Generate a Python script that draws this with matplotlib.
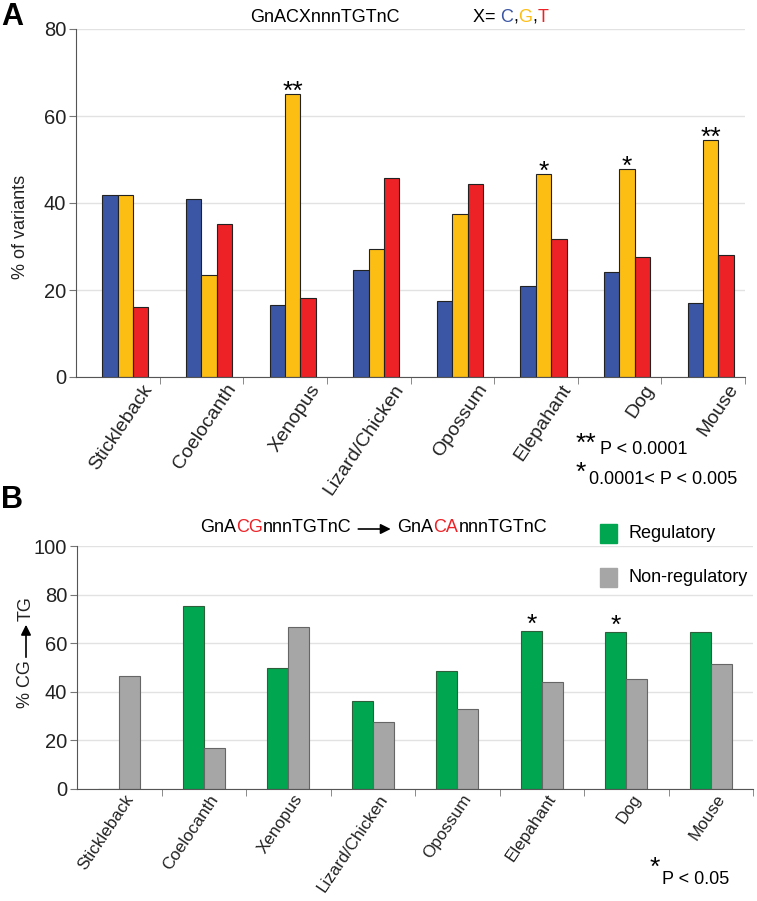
import matplotlib
matplotlib.use('Agg')
import matplotlib.pyplot as plt
from matplotlib.patches import Rectangle, FancyArrowPatch
import numpy as np

plt.rcParams['font.family'] = ['Liberation Sans', 'DejaVu Sans']

# data
species = ['Stickleback', 'Coelocanth', 'Xenopus', 'Lizard/Chicken',
           'Opossum', 'Elepahant', 'Dog', 'Mouse']

# panel A: % of variants for X = C, G, T
pct_C = [41.8, 41.0, 16.6, 24.5, 17.4, 21.0, 24.2, 17.0]
pct_G = [41.8, 23.4, 65.0, 29.4, 37.5, 46.7, 47.8, 54.4]
pct_T = [16.1, 35.2, 18.1, 45.7, 44.4, 31.8, 27.7, 28.1]
stars_A = ['', '', '**', '', '', '*', '*', '**']

# panel B: % CG -> TG
regulatory = [0.0, 75.4, 50.0, 36.3, 48.4, 65.0, 64.6, 64.6]
non_regulatory = [46.3, 16.9, 66.7, 27.7, 32.8, 43.9, 45.4, 51.5]
stars_B = ['', '', '', '', '', '*', '*', '']

BLUE = '#3B56A5'
YELLOW = '#FDBE14'
RED = '#EC2227'
GREEN = '#00A650'
GRAY = '#A6A6A6'

W, H = 757, 901
fig = plt.figure(figsize=(W / 100, H / 100), dpi=100)


def fx(px):
    return px / W


def fy(py):
    return 1 - py / H


def style_axis(ax, ymax, step, xlabelsize):
    for s in ['top', 'right']:
        ax.spines[s].set_visible(False)
    ax.spines['left'].set_color('#555555')
    ax.spines['bottom'].set_color('#555555')
    ax.set_ylim(0, ymax)
    ax.set_yticks(np.arange(0, ymax + 1, step))
    ax.yaxis.grid(True, color='#E2E2E2', lw=1)
    ax.set_axisbelow(True)
    ax.tick_params(axis='y', length=5, color='#777777', labelsize=14.5, pad=2,
                   labelcolor='#222222')
    ax.tick_params(axis='x', which='major', length=0, labelsize=xlabelsize, pad=3,
                   labelcolor='#222222')
    ax.tick_params(axis='x', which='minor', length=5, color='#777777')


x = np.arange(len(species))

# ---------- panel A ----------
axA = fig.add_axes([fx(76), fy(377), fx(745) - fx(76), fy(29) - fy(377)])
w = 0.184
axA.bar(x - w, pct_C, w, color=BLUE, edgecolor='#222222', lw=0.8)
axA.bar(x, pct_G, w, color=YELLOW, edgecolor='#222222', lw=0.8)
axA.bar(x + w, pct_T, w, color=RED, edgecolor='#222222', lw=0.8)
style_axis(axA, 80, 20, 14)
axA.set_xlim(-0.59, 7.41)
axA.set_xticks(x + 0.2)
axA.set_xticklabels(species, rotation=56, ha='right', rotation_mode='anchor')
axA.set_xticks(np.arange(1, 9) - 0.59, minor=True)
axA.set_ylabel('% of variants', fontsize=13, color='#222222')
axA.yaxis.set_label_coords(-0.07, 0.43)
for xi, v, s in zip(x, pct_G, stars_A):
    if s:
        axA.annotate(s, (xi, v), xytext=(0, -7), textcoords='offset points',
                     ha='center', va='bottom', fontsize=19)

# ---------- panel B ----------
axB = fig.add_axes([fx(77), fy(789), fx(753) - fx(77), fy(546) - fy(789)])
wb = 0.246
axB.bar(x - wb / 2, regulatory, wb, color=GREEN, edgecolor='#2F5F3A', lw=0.8)
axB.bar(x + wb / 2, non_regulatory, wb, color=GRAY, edgecolor='#666666', lw=0.8)
style_axis(axB, 100, 20, 12.3)
axB.tick_params(axis='x', which='major', pad=2)
axB.set_xlim(-0.5, 7.5)
axB.set_xticks(x + 0.06)
axB.set_xticklabels(species, rotation=56, ha='right', rotation_mode='anchor')
axB.set_xticks(np.arange(1, 9) - 0.5, minor=True)
for xi, v, s in zip(x, regulatory, stars_B):
    if s:
        axB.annotate(s, (xi - wb / 2, v), xytext=(0, -4), textcoords='offset points',
                     ha='center', va='bottom', fontsize=19)

renderer = fig.canvas.get_renderer()


def put_parts(xpx, ypx, parts, size):
    xf = fx(xpx)
    for s, c in parts:
        t = fig.text(xf, fy(ypx), s, color=c, fontsize=size, ha='left', va='center')
        xf += t.get_window_extent(renderer).width / fig.bbox.width
    return xf * W


# panel letters
fig.text(fx(1), fy(17), 'A', fontsize=22, fontweight='bold', va='center', ha='left')
fig.text(fx(1), fy(500), 'B', fontsize=22, fontweight='bold', va='center', ha='left')

# panel A title
put_parts(250, 17, [('GnACXnnnTGTnC', 'black')], 13)
put_parts(473, 17, [('X= ', 'black'), ('C', BLUE), (',', 'black'),
                    ('G', YELLOW), (',', 'black'), ('T', RED)], 13)

# panel A significance key
fig.text(fx(576), fy(444), '**', fontsize=19, ha='left', va='center')
fig.text(fx(600), fy(450), 'P < 0.0001', fontsize=13, ha='left', va='center')
fig.text(fx(576), fy(473), '*', fontsize=19, ha='left', va='center')
fig.text(fx(589), fy(479), '0.0001< P < 0.005', fontsize=13, ha='left', va='center')

# panel B title
end1 = put_parts(200, 528, [('GnA', 'black'), ('CG', RED), ('nnnTGTnC', 'black')], 13)
fig.add_artist(FancyArrowPatch(
    (fx(end1 + 4), fy(529)), (fx(end1 + 42), fy(529)), transform=fig.transFigure,
    arrowstyle='-|>', mutation_scale=15, color='black', lw=1.2))
put_parts(end1 + 46, 528, [('GnA', 'black'), ('CA', RED), ('nnnTGTnC', 'black')], 13)

# panel B legend
for ytop, col, lab in [(524, GREEN, 'Regulatory'), (568, GRAY, 'Non-regulatory')]:
    fig.add_artist(Rectangle((fx(600), fy(ytop + 19)), fx(617) - fx(600), 19 / H,
                             transform=fig.transFigure, color=col))
    fig.text(fx(628), fy(ytop + 9.5), lab, fontsize=13, ha='left', va='center')

# panel B y label with arrow
fig.text(fx(26), fy(708), '% CG', rotation=90, fontsize=13, ha='center', va='bottom',
         color='#222222')
fig.add_artist(FancyArrowPatch(
    (fx(26), fy(660)), (fx(26), fy(622)), transform=fig.transFigure,
    arrowstyle='-|>', mutation_scale=15, color='black', lw=1.2))
fig.text(fx(26), fy(621), 'TG', rotation=90, fontsize=13, ha='center', va='bottom',
         color='#222222')

# panel B significance key
fig.text(fx(650), fy(868), '*', fontsize=19, ha='left', va='center')
fig.text(fx(662), fy(879), 'P < 0.05', fontsize=13, ha='left', va='center')

fig.savefig('out.png', dpi=100)
